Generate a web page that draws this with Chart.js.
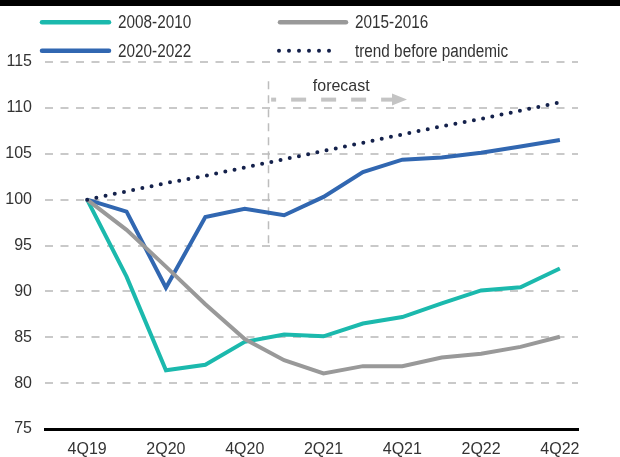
<!DOCTYPE html>
<html><head><meta charset="utf-8">
<script src="https://cdn.jsdelivr.net/npm/chart.js@4"></script>
<style>
html,body{margin:0;padding:0;background:#fff;}
#wrap{position:relative;width:620px;height:457px;overflow:hidden;}
#bar{position:absolute;left:0;top:0;width:620px;height:6px;background:#000;}
canvas{position:absolute;left:0;top:0;}
</style></head><body>
<div id="wrap"><canvas id="c" width="620" height="457"></canvas><div id="bar"></div></div>
<script>
const quarters = ['4Q19','1Q20','2Q20','3Q20','4Q20','1Q21','2Q21','3Q21','4Q21','1Q22','2Q22','3Q22','4Q22'];
const s2008 = [100, 91.6, 81.4, 82.0, 84.5, 85.3, 85.1, 86.5, 87.2, 88.7, 90.1, 90.45, 92.5];
const s2015 = [100, 96.7, 92.7, 88.6, 84.8, 82.5, 81.05, 81.85, 81.85, 82.8, 83.2, 83.95, 85.05];
const s2020 = [100, 98.7, 90.4, 98.1, 99.0, 98.3, 100.3, 103.0, 104.35, 104.6, 105.1, 105.8, 106.5];
const trend = [100, 100.9, 101.8, 102.6, 103.5, 104.4, 105.3, 106.2, 107.1, 108.0, 108.8, 109.7, 110.6];
const seriesNames = ['2008-2010', '2015-2016', '2020-2022', 'trend before pandemic'];
const xTickIdx = [0, 2, 4, 6, 8, 10, 12];
const forecastLabel = 'forecast';
// forecast annotation, in data units
const forecastX = 4.6, forecastYLow = 95, forecastYHigh = 112.9;
const arrowY = 110.9, arrowFrom = 4.67, arrowTo = 8.12;
const labelX = 6.45, labelY = 112.4;

const FONT = "'Liberation Sans', Arial, Helvetica, sans-serif";
Chart.defaults.font.family = FONT;
Chart.defaults.font.size = 16;
Chart.defaults.color = '#333';

const toXY = arr => arr.map((v, i) => ({x: i, y: v}));

// legend layout: [line start x, line end x, text x, row y]
const legendPos = [[42, 109, 118, 22.3], [280, 346, 355, 22.3], [42, 109, 118, 50.7], [279, 339, 355, 50.7]];

function narrowText(ctx, text, x, y, size, sx) {
  ctx.save();
  ctx.font = size + 'px ' + FONT;
  ctx.translate(x, y);
  ctx.scale(sx, 1);
  ctx.fillText(text, 0, 0);
  ctx.restore();
}

const annotPlugin = {
  id: 'annot',
  beforeDatasetsDraw(chart) {
    const ctx = chart.ctx, xs = chart.scales.x, ys = chart.scales.y;
    ctx.save();
    const vx = Math.round(xs.getPixelForValue(forecastX)) + 0.5;
    ctx.strokeStyle = '#bdbdbd';
    ctx.lineWidth = 1.5;
    ctx.setLineDash([8, 6]);
    ctx.beginPath();
    ctx.moveTo(vx, ys.getPixelForValue(forecastYHigh));
    ctx.lineTo(vx, ys.getPixelForValue(forecastYLow));
    ctx.stroke();
    const ay = ys.getPixelForValue(arrowY);
    const ax0 = xs.getPixelForValue(arrowFrom), ax1 = xs.getPixelForValue(arrowTo);
    ctx.strokeStyle = '#c4c4c4';
    ctx.fillStyle = '#c4c4c4';
    ctx.lineWidth = 4;
    ctx.setLineDash([15, 15]);
    ctx.lineDashOffset = 10;
    ctx.beginPath();
    ctx.moveTo(ax0, ay);
    ctx.lineTo(ax1 - 14, ay);
    ctx.stroke();
    ctx.setLineDash([]);
    ctx.beginPath();
    ctx.moveTo(ax1, ay);
    ctx.lineTo(ax1 - 15, ay - 6);
    ctx.lineTo(ax1 - 15, ay + 6);
    ctx.closePath();
    ctx.fill();
    ctx.fillStyle = '#333';
    ctx.textAlign = 'center';
    ctx.textBaseline = 'middle';
    narrowText(ctx, forecastLabel, xs.getPixelForValue(labelX), ys.getPixelForValue(labelY), 17, 0.94);
    ctx.restore();
  },
  afterDraw(chart) {
    const ctx = chart.ctx;
    ctx.save();
    chart.data.datasets.forEach((ds, i) => {
      const [x0, x1, tx, ly] = legendPos[i];
      ctx.strokeStyle = ds.borderColor;
      ctx.lineCap = 'round';
      ctx.beginPath();
      if (ds.borderDash && ds.borderDash.length) {
        ctx.lineWidth = 4;
        ctx.setLineDash([0, 10]);
      } else {
        ctx.lineWidth = 4.5;
        ctx.setLineDash([]);
      }
      ctx.moveTo(x0, ly);
      ctx.lineTo(x1, ly);
      ctx.stroke();
      ctx.setLineDash([]);
      ctx.fillStyle = '#333';
      ctx.textAlign = 'left';
      ctx.textBaseline = 'middle';
      narrowText(ctx, ds.label, tx, ly + 1, 18, 0.85);
    });
    ctx.restore();
  }
};

new Chart(document.getElementById('c'), {
  type: 'line',
  data: {
    datasets: [
      {label: seriesNames[0], data: toXY(s2008), borderColor: '#1bb9ad', borderWidth: 4, order: 3},
      {label: seriesNames[1], data: toXY(s2015), borderColor: '#999999', borderWidth: 4, order: 1},
      {label: seriesNames[2], data: toXY(s2020), borderColor: '#3167b1', borderWidth: 4, order: 2},
      {label: seriesNames[3], data: toXY(trend), borderColor: '#14214b', borderWidth: 4,
       borderDash: [0, 9.4], borderCapStyle: 'round', order: 0}
    ]
  },
  options: {
    responsive: false,
    animation: false,
    devicePixelRatio: 1,
    layout: {padding: {left: 0, top: 62, right: 42, bottom: 0}},
    elements: {point: {radius: 0, hoverRadius: 0}, line: {tension: 0, fill: false}},
    plugins: {legend: {display: false}, tooltip: {enabled: false}},
    scales: {
      x: {
        type: 'linear', min: -1.07, max: 12.46,
        afterBuildTicks: s => { s.ticks = xTickIdx.map(v => ({value: v})); },
        afterFit: s => { s.height = 28; },
        ticks: {callback: v => quarters[v], padding: 11, maxRotation: 0, autoSkip: false, color: '#333'},
        grid: {display: false, drawTicks: false},
        border: {display: true, color: '#000', width: 3}
      },
      y: {
        min: 75, max: 115,
        afterFit: s => { s.width = 45; },
        ticks: {stepSize: 5, padding: 13, color: '#333'},
        grid: {drawTicks: false, lineWidth: 2,
               color: c => (c.tick && c.tick.value === 75) ? 'rgba(0,0,0,0)' : '#c9c9c9'},
        border: {display: false, dash: [8, 7.5]}
      }
    }
  },
  plugins: [annotPlugin]
});
</script>
</body></html>
